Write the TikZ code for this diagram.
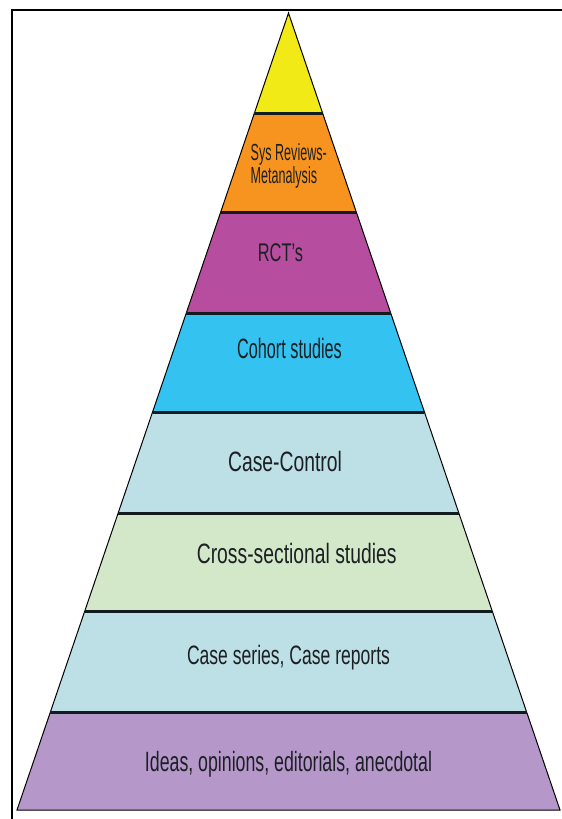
\documentclass[tikz,border=0pt]{standalone}
\usepackage{graphicx}
\usepackage{fontspec}
\setmainfont{Liberation Sans}
\definecolor{cyel}{RGB}{242,234,22}
\definecolor{corg}{RGB}{247,148,32}
\definecolor{cmag}{RGB}{183,77,158}
\definecolor{ccya}{RGB}{52,194,240}
\definecolor{clbl}{RGB}{188,224,230}
\definecolor{cgrn}{RGB}{210,232,200}
\definecolor{cpur}{RGB}{182,151,202}
\definecolor{cline}{RGB}{18,28,30}
\definecolor{ctext}{RGB}{28,32,36}
\newcommand{\lbltxt}[3]{\fontsize{#1}{#1}\selectfont\scalebox{#2}[1]{#3}}
\tikzset{
  band/.style={fill=#1, draw=none},
  sep/.style={draw=cline, line width=3pt},
  side/.style={draw=black, line width=1pt, line join=miter},
  lbl/.style={inner sep=0pt, outer sep=0pt, text=ctext, anchor=base},
  frame/.style={draw=black, line width=1.8pt}
}
\begin{document}
\begin{tikzpicture}[x=1pt,y=-1pt]
\useasboundingbox (0,0) rectangle (562,819);
% levels
\coordinate (A) at (288.5,13);
\coordinate (L1) at (254.4,113); \coordinate (R1) at (322.6,113);
\coordinate (L2) at (220.7,212); \coordinate (R2) at (356.3,212);
\coordinate (L3) at (186.3,313); \coordinate (R3) at (390.7,313);
\coordinate (L4) at (152.6,412); \coordinate (R4) at (424.4,412);
\coordinate (L5) at (118.2,513); \coordinate (R5) at (458.8,513);
\coordinate (L6) at (84.8,611);  \coordinate (R6) at (492.2,611);
\coordinate (L7) at (50.4,712);  \coordinate (R7) at (526.6,712);
\coordinate (L8) at (17.0,810);  \coordinate (R8) at (560.0,810);
% bands
\fill[band=cyel] (A) -- (R1) -- (L1) -- cycle;
\fill[band=corg] (L1) -- (R1) -- (R2) -- (L2) -- cycle;
\fill[band=cmag] (L2) -- (R2) -- (R3) -- (L3) -- cycle;
\fill[band=ccya] (L3) -- (R3) -- (R4) -- (L4) -- cycle;
\fill[band=clbl] (L4) -- (R4) -- (R5) -- (L5) -- cycle;
\fill[band=cgrn] (L5) -- (R5) -- (R6) -- (L6) -- cycle;
\fill[band=clbl] (L6) -- (R6) -- (R7) -- (L7) -- cycle;
\fill[band=cpur] (L7) -- (R7) -- (R8) -- (L8) -- cycle;
% outline
\draw[side] (L8) -- (A) -- (R8) -- cycle;
% separators
\foreach \i in {1,...,7} { \draw[sep] (L\i) -- (R\i); }
% frame
\coordinate (F0) at (12,10); \coordinate (F1) at (562,10); \coordinate (F2) at (12,819);
\draw[frame] (F1) -- (F0) -- (F2);
% labels
\node[lbl, anchor=base west] (sys1) at (250.7,160.7) {\lbltxt{23.3}{0.54}{Sys Reviews-}};
\node[lbl, anchor=base west] (sys2) at (250.7,183.3) {\lbltxt{23.3}{0.54}{Metanalysis}};
\node[lbl] (rct) at (280.5,261.7) {\lbltxt{25.6}{0.64}{RCT's}};
\node[lbl] (coh) at (289.5,358) {\lbltxt{28}{0.58}{Cohort studies}};
\node[lbl] (cc) at (285,471.7) {\lbltxt{28}{0.69}{Case-Control}};
\node[lbl] (cs) at (296.7,563.3) {\lbltxt{28}{0.69}{Cross-sectional studies}};
\node[lbl] (ser) at (288.5,664) {\lbltxt{26.6}{0.66}{Case series, Case reports}};
\node[lbl] (ide) at (288.5,771.7) {\lbltxt{27.9}{0.636}{Ideas, opinions, editorials, anecdotal}};
\end{tikzpicture}
\end{document}
